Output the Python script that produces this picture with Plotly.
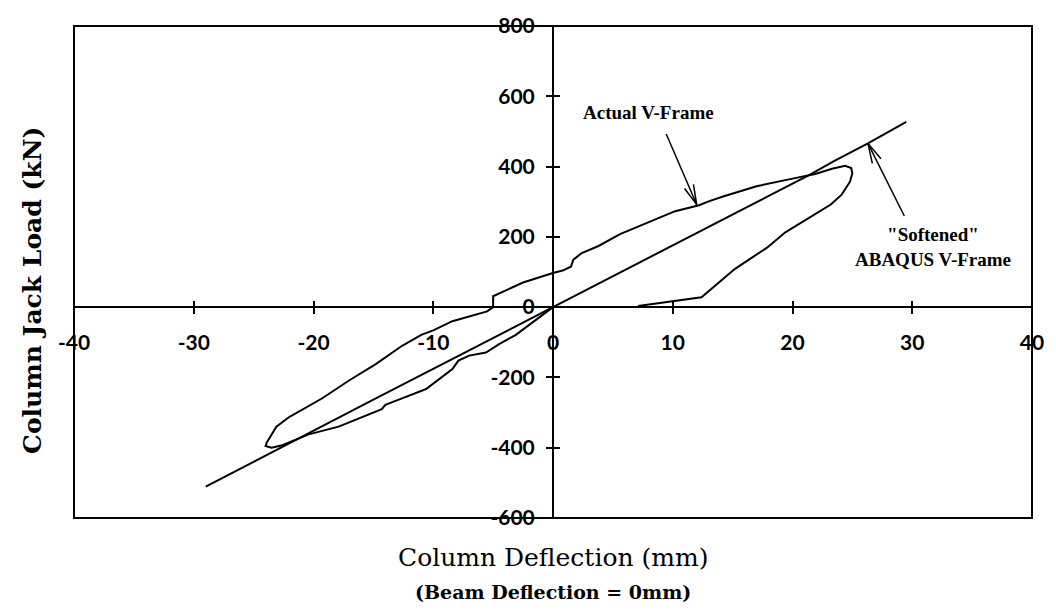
import math
import plotly.graph_objects as go

# Measured V-frame response: column jack load vs column deflection
actual_defl = [0, -1.5, -3.1, -4.5, -5.6, -7.0, -7.9, -8.4, -9.5, -10.6, -12.5, -14.0, -14.3,
               -16.8, -17.9, -20.4, -21.4, -22.6, -23.5, -24.0, -23.9, -23.7, -23.1, -22.0,
               -19.3, -17.0, -14.8, -12.6, -11.0, -10.0, -8.4, -5.5, -5.0, -5.0, -2.5, 0,
               0.8, 1.5, 1.7, 2.4, 3.8, 5.6, 10.2, 12.2, 13.0, 14.2, 17.0, 19.9, 21.9, 23.3,
               24.4, 24.9, 25.0, 24.8, 24.1, 23.2, 21.6, 19.4, 17.9, 15.2, 12.4, 10.2, 8.0, 7.1]
actual_load = [0, -38, -79, -105, -129, -138, -152, -176, -205, -233, -258, -278, -290,
               -326, -340, -362, -376, -393, -400, -395, -385, -373, -340, -312,
               -260, -208, -162, -110, -79, -66, -40, -12, 0, 31, 70, 97,
               104, 115, 135, 154, 174, 208, 273, 290, 301, 315, 344, 365, 379, 394,
               402, 396, 381, 357, 320, 292, 258, 213, 170, 109, 28, 18, 9, 3]

# "Softened" ABAQUS model of the V-frame
abaqus_defl = [-29.0, -15.0, 0, 15.0, 21.5, 23.5, 25.5, 26.3, 29.5]
abaqus_load = [-511, -263, 0, 264, 378, 416, 452, 466, 527]

x_ticks = [-40, -30, -20, -10, 0, 10, 20, 30, 40]
x_labels = ["-40", "-30", "-20", "-10", "0", "10", "20", "30", "40"]
y_ticks = [-600, -400, -200, 0, 200, 400, 600, 800]
y_labels = ["-600", "-400", "-200", "0", "200", "400", "600", "800"]
x_range = [-40, 40]
y_range = [-600, 800]
x_zero = (0 - x_range[0]) / (x_range[1] - x_range[0])
y_zero = (0 - y_range[0]) / (y_range[1] - y_range[0])

W, H = 1056, 612
M = dict(l=74, r=21, t=19, b=94)
px_per_x = (W - M["l"] - M["r"]) / (x_range[1] - x_range[0])
px_per_y = (H - M["t"] - M["b"]) / (y_range[1] - y_range[0])

tick_font = dict(family="Lato", size=21, color="black", weight="bold")
serif = "DejaVu Serif"
note_font = dict(family="Liberation Serif", size=19, color="black", weight="bold")

fig = go.Figure()
fig.add_trace(go.Scatter(x=actual_defl, y=actual_load, mode="lines",
                         line=dict(color="black", width=2), showlegend=False))
fig.add_trace(go.Scatter(x=abaqus_defl, y=abaqus_load, mode="lines",
                         line=dict(color="black", width=2), showlegend=False))
# empty trace so the overlaid tick axes (other half of the "+" ticks) get drawn
fig.add_trace(go.Scatter(x=[None], y=[None], xaxis="x2", yaxis="y2",
                         showlegend=False, hoverinfo="skip"))

axis_common = dict(showgrid=False, zeroline=False, tickcolor="black", tickwidth=1.5, ticklen=6)

fig.update_layout(
    width=W, height=H,
    margin=M,
    paper_bgcolor="white", plot_bgcolor="white",
    xaxis=dict(range=x_range, tickvals=x_ticks, ticktext=x_labels, anchor="free",
               position=y_zero, showline=True, linecolor="black", linewidth=2,
               ticks="outside", tickfont=tick_font, ticklabelstandoff=11, **axis_common),
    yaxis=dict(range=y_range, tickvals=y_ticks, ticktext=y_labels, anchor="free",
               position=x_zero, side="left", showline=True, linecolor="black", linewidth=2,
               ticks="outside", tickfont=tick_font, ticklabelstandoff=7, **axis_common),
    xaxis2=dict(range=x_range, tickvals=x_ticks, overlaying="x", anchor="free", position=y_zero,
                ticks="inside", showticklabels=False, showline=False, **axis_common),
    yaxis2=dict(range=y_range, tickvals=y_ticks, overlaying="y", anchor="free", position=x_zero,
                side="left", ticks="inside", showticklabels=False, showline=False, **axis_common),
)

# plot frame
fig.add_shape(type="rect", xref="paper", yref="paper", x0=0, x1=1, y0=0, y1=1,
              line=dict(color="black", width=2), layer="above")

# axis titles
fig.add_annotation(text="Column Deflection (mm)", xref="paper", yref="paper", x=0.5, y=0,
                   yshift=-39, showarrow=False, yanchor="middle",
                   font=dict(family=serif, size=25, color="black"))
fig.add_annotation(text="(Beam Deflection = 0mm)", xref="paper", yref="paper", x=0.5, y=0,
                   yshift=-74, showarrow=False, yanchor="middle",
                   font=dict(family=serif, size=19, color="black", weight="bold"))
fig.add_annotation(text="Column Jack Load (kN)", xref="paper", yref="paper", x=0, y=0.5,
                   xshift=-42, yshift=-19, textangle=-90, showarrow=False,
                   xanchor="center", yanchor="middle",
                   font=dict(family=serif, size=25, color="black", weight="bold"))


def pointer(tip, tail, barb_len=22, barb_deg=14):
    """Thin line from tail to tip with an open V-shaped head at the tip."""
    fig.add_annotation(text="", x=tip[0], y=tip[1], ax=tail[0], ay=tail[1], xref="x", yref="y",
                       axref="x", ayref="y", showarrow=True, arrowhead=0,
                       arrowwidth=1.5, arrowcolor="black", standoff=0)
    # screen-space direction from tip back toward the tail (screen y grows downward)
    dx = (tail[0] - tip[0]) * px_per_x
    dy = -(tail[1] - tip[1]) * px_per_y
    ang = math.atan2(dy, dx)
    for sgn in (-1, 1):
        a = ang + sgn * math.radians(barb_deg)
        fig.add_annotation(text="", x=tip[0], y=tip[1], xref="x", yref="y",
                           ax=barb_len * math.cos(a), ay=barb_len * math.sin(a),
                           showarrow=True, arrowhead=0, arrowwidth=1.5,
                           arrowcolor="black", standoff=0)


# callouts
fig.add_annotation(text="Actual V-Frame", x=8.0, y=553, xref="x", yref="y",
                   showarrow=False, font=note_font)
pointer((12.0, 292), (9.4, 497))
fig.add_annotation(text="\"Softened\"<br>ABAQUS V-Frame", x=31.7, y=172, xref="x", yref="y",
                   showarrow=False, font=note_font, align="center")
pointer((26.3, 466), (29.4, 255))

fig.write_html("out.html")
